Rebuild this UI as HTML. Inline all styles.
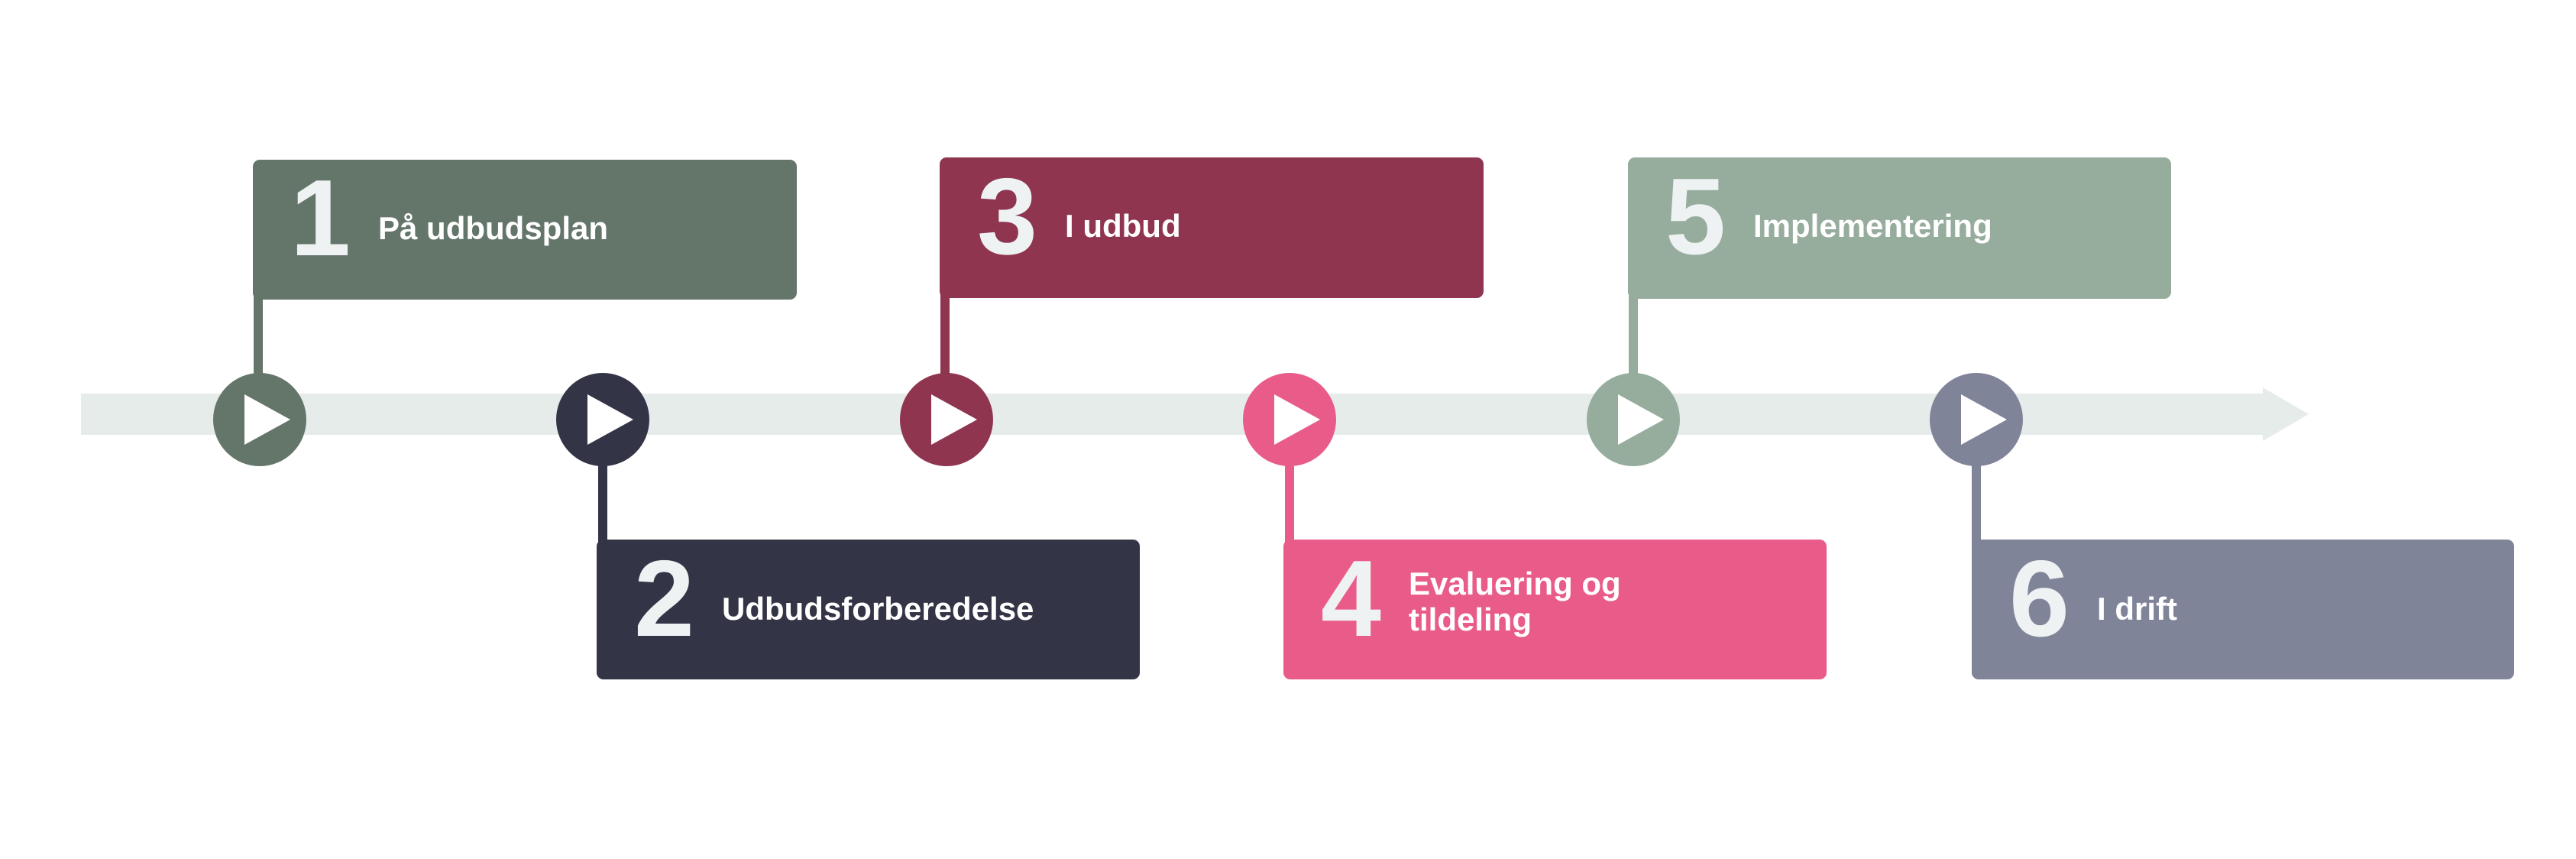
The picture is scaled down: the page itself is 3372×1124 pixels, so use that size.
<!DOCTYPE html>
<html><head><meta charset="utf-8"><style>
html,body{margin:0;padding:0;background:#fff;}
svg{display:block;}
text{font-family:"Liberation Sans",Arial,sans-serif;font-weight:bold;}
</style></head><body>
<svg width="3372" height="1124" viewBox="0 0 3372 1124" xmlns="http://www.w3.org/2000/svg">
<rect x="0" y="0" width="3372" height="1124" fill="#fff"/>
<rect x="106" y="515" width="2858" height="54" fill="#e6ecea"/>
<polygon points="2962,507 3022,542 2962,577" fill="#e6ecea"/>

<rect x="332" y="230" width="12" height="270" fill="#64756a"/>
<rect x="1231" y="230" width="12" height="270" fill="#8f3550"/>
<rect x="2132" y="230" width="12" height="270" fill="#96ad9e"/>
<rect x="783" y="600" width="12" height="120" fill="#343447"/>
<rect x="1682" y="600" width="12" height="120" fill="#e95c89"/>
<rect x="2581" y="600" width="12" height="120" fill="#808499"/>

<rect x="331" y="209" width="712" height="183" rx="9" fill="#64756a"/>
<rect x="1230" y="206" width="712" height="184" rx="9" fill="#8f3550"/>
<rect x="2131" y="206" width="711" height="185" rx="9" fill="#96ad9e"/>
<rect x="781" y="706" width="711" height="183" rx="9" fill="#343447"/>
<rect x="1680" y="706" width="711" height="183" rx="9" fill="#e95c89"/>
<rect x="2581" y="706" width="710" height="183" rx="9" fill="#808499"/>

<g>
<circle cx="340" cy="549" r="61" fill="#64756a"/>
<polygon points="320,516 380,549 320,582" fill="#fff"/>
<circle cx="789" cy="549" r="61" fill="#343447"/>
<polygon points="769,516 829,549 769,582" fill="#fff"/>
<circle cx="1239" cy="549" r="61" fill="#8f3550"/>
<polygon points="1219,516 1279,549 1219,582" fill="#fff"/>
<circle cx="1688" cy="549" r="61" fill="#e95c89"/>
<polygon points="1668,516 1728,549 1668,582" fill="#fff"/>
<circle cx="2138" cy="549" r="61" fill="#96ad9e"/>
<polygon points="2118,516 2178,549 2118,582" fill="#fff"/>
<circle cx="2587" cy="549" r="61" fill="#808499"/>
<polygon points="2567,516 2627,549 2567,582" fill="#fff"/>
</g>

<g fill="#eef2f3" font-size="142">
<text x="380" y="334">1</text>
<text x="1279" y="332">3</text>
<text x="2180" y="332">5</text>
<text x="830" y="832">2</text>
<text x="1729" y="832">4</text>
<text x="2630" y="832">6</text>
</g>
<g fill="#ffffff" font-size="42">
<text x="495" y="313">På udbudsplan</text>
<text x="1394" y="310">I udbud</text>
<text x="2295" y="310">Implementering</text>
<text x="945" y="811">Udbudsforberedelse</text>
<text x="1844" y="778">Evaluering og</text>
<text x="1844" y="825">tildeling</text>
<text x="2745" y="811">I drift</text>
</g>
</svg>
</body></html>
